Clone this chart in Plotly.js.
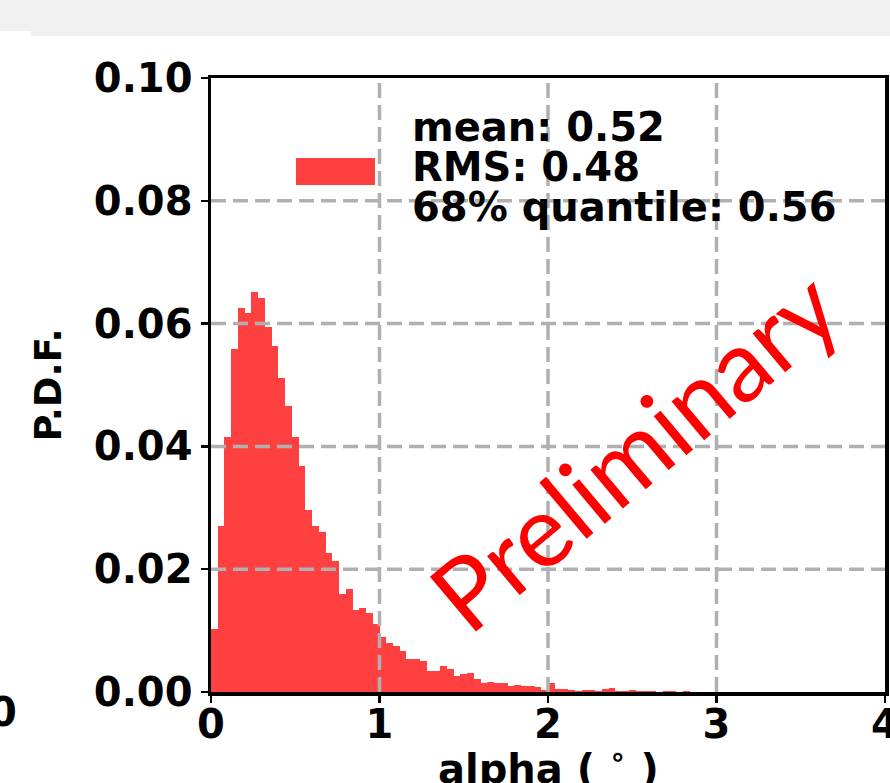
<!DOCTYPE html>
<html>
<head>
<meta charset="utf-8">
<script src="https://cdn.plot.ly/plotly-3.0.1.min.js"></script>
<style>
  html, body { margin: 0; padding: 0; background: #ffffff; }
  #wrap { position: relative; width: 890px; height: 783px; overflow: hidden; }
  #chart { position: absolute; left: 0; top: 0; width: 890px; height: 783px; }
  #band { position: absolute; left: 31px; top: 0; width: 859px; height: 36px; background: #f0f0f0; z-index: 5; }
  #band2 { position: absolute; left: 0; top: 0; width: 31px; height: 31px; background: #f0f0f0; z-index: 5; }
</style>
</head>
<body>
<div id="wrap">
  <div id="chart"></div>
  <div id="band"></div>
  <div id="band2"></div>
</div>
<script>
// ---- data ----
var binStart = 0.0;
var binWidth = 0.04;
var pdfValues = [
  0.0102, 0.0270, 0.0416, 0.0558, 0.0625, 0.0618, 0.0651, 0.0641, 0.0595, 0.0563,
  0.0511, 0.0465, 0.0416, 0.0368, 0.0296, 0.0270, 0.0261, 0.0227, 0.0213, 0.0160,
  0.0167, 0.0134, 0.0137, 0.0129, 0.0110, 0.0089, 0.0079, 0.0075, 0.0067, 0.0054,
  0.0054, 0.0051, 0.0035, 0.0035, 0.0043, 0.0037, 0.0026, 0.0029, 0.0031, 0.0021,
  0.0014, 0.0016, 0.0014, 0.0014, 0.0010, 0.0011, 0.0009, 0.0009, 0.0008, 0.0004,
  0.0014, 0.0005, 0.0005, 0.0004, 0.0002, 0.0004, 0.0004, 0.0002, 0.0005, 0.0007,
  0.0001, 0.0002, 0.0004, 0.0002, 0.0001, 0.0001, 0.0000, 0.0001, 0.0002, 0.0000,
  0.0002, 0.0000, 0.0000, 0.0000, 0.0000, 0.0000, 0.0000, 0.0000, 0.0000, 0.0000,
  0.0000, 0.0000, 0.0000, 0.0000, 0.0000, 0.0000, 0.0000, 0.0000, 0.0000, 0.0000,
  0.0000, 0.0000, 0.0000, 0.0000, 0.0000, 0.0000, 0.0000, 0.0000, 0.0000, 0.0000
];
var xTicks = [0, 1, 2, 3, 4];
var yTicks = [0.00, 0.02, 0.04, 0.06, 0.08, 0.10];
var legendLines = ["mean: 0.52", "RMS: 0.48", "68% quantile: 0.56"];
var xTitle = "alpha ( <sup>∘</sup> )";
var yTitle = "P.D.F.";
var watermark = "Preliminary";
var cutLabel = "0";

// ---- build ----
var centers = pdfValues.map(function (v, i) { return binStart + binWidth * (i + 0.5); });
var FONT = "DejaVu Sans, Liberation Sans, sans-serif";
var FS = 40;
var gridColor = "rgb(176,176,176)";

var trace = {
  type: "bar",
  x: centers,
  y: pdfValues,
  width: binWidth,
  marker: { color: "rgba(255,0,0,0.75)", line: { width: 0 } },
  showlegend: false,
  hoverinfo: "x+y"
};

var shapes = [];
xTicks.forEach(function (t) {
  if (t > xTicks[0] && t < xTicks[xTicks.length - 1]) {
    shapes.push({ type: "line", layer: "above", xref: "x", yref: "paper", x0: t, x1: t, y0: 0, y1: 1,
      line: { color: gridColor, width: 3.5, dash: "15px,7px" } });
  }
});
yTicks.forEach(function (t) {
  if (t > yTicks[0] && t < yTicks[yTicks.length - 1]) {
    shapes.push({ type: "line", layer: "above", xref: "paper", yref: "y", x0: 0, x1: 1, y0: t, y1: t,
      line: { color: gridColor, width: 3.5, dash: "15px,7px" } });
  }
});
// legend patch
shapes.push({ type: "rect", layer: "above", xref: "paper", yref: "paper",
  x0: 0.126, x1: 0.2433, y0: 0.8257, y1: 0.8697,
  fillcolor: "rgba(255,0,0,0.75)", line: { width: 0 } });

var annotations = [];
var legendY = [0.9200, 0.855, 0.7895];
legendLines.forEach(function (s, i) {
  annotations.push({ xref: "paper", yref: "paper", x: 0.2953, y: legendY[i], xanchor: "left", yanchor: "middle",
    text: s, showarrow: false, font: { family: FONT, size: FS, color: "#000", weight: "bold" } });
});
annotations.push({ xref: "paper", yref: "paper", x: 0.626, y: 0.396, xanchor: "center", yanchor: "middle",
  text: watermark, textangle: -40, showarrow: false,
  font: { family: "Lato, Open Sans, sans-serif", size: 100, color: "#ff0000" } });
annotations.push({ xref: "paper", yref: "paper", x: -0.285, y: -0.033, xanchor: "right", yanchor: "middle",
  text: cutLabel, showarrow: false, font: { family: FONT, size: FS, color: "#000", weight: "bold" } });
// x-axis title (placed as in the reference, partly below the picture's edge)
annotations.push({ xref: "paper", yref: "paper", x: 0.5, y: -0.075, xanchor: "center", yanchor: "top",
  text: xTitle, showarrow: false, font: { family: FONT, size: FS, color: "#000", weight: "bold" } });

var axisCommon = {
  showline: true, linecolor: "#000", linewidth: 3.5, mirror: true,
  ticks: "outside", ticklen: 7, tickwidth: 2.5, tickcolor: "#000",
  showgrid: false, zeroline: false, fixedrange: true,
  ticklabeloverflow: "allow",
  tickfont: { family: FONT, size: FS, color: "#000", weight: "bold" }
};

var layout = {
  width: 890, height: 783,
  margin: { l: 211, r: 5, t: 78, b: 91, pad: 0 },
  paper_bgcolor: "#ffffff", plot_bgcolor: "#ffffff",
  bargap: 0,
  xaxis: Object.assign({}, axisCommon, {
    range: [xTicks[0], xTicks[xTicks.length - 1]],
    tickmode: "array", tickvals: xTicks, ticktext: xTicks.map(String),
    ticklabelstandoff: -13,
    automargin: false
  }),
  yaxis: Object.assign({}, axisCommon, {
    range: [yTicks[0], yTicks[yTicks.length - 1]],
    tickmode: "array", tickvals: yTicks, ticktext: yTicks.map(function (v) { return v.toFixed(2); }),
    title: { text: yTitle, standoff: 22, font: { family: FONT, size: 37, color: "#000", weight: "bold" } },
    automargin: false
  }),
  shapes: shapes,
  annotations: annotations,
  showlegend: false
};

Plotly.newPlot("chart", [trace], layout, { displayModeBar: false, staticPlot: true });
</script>
</body>
</html>
